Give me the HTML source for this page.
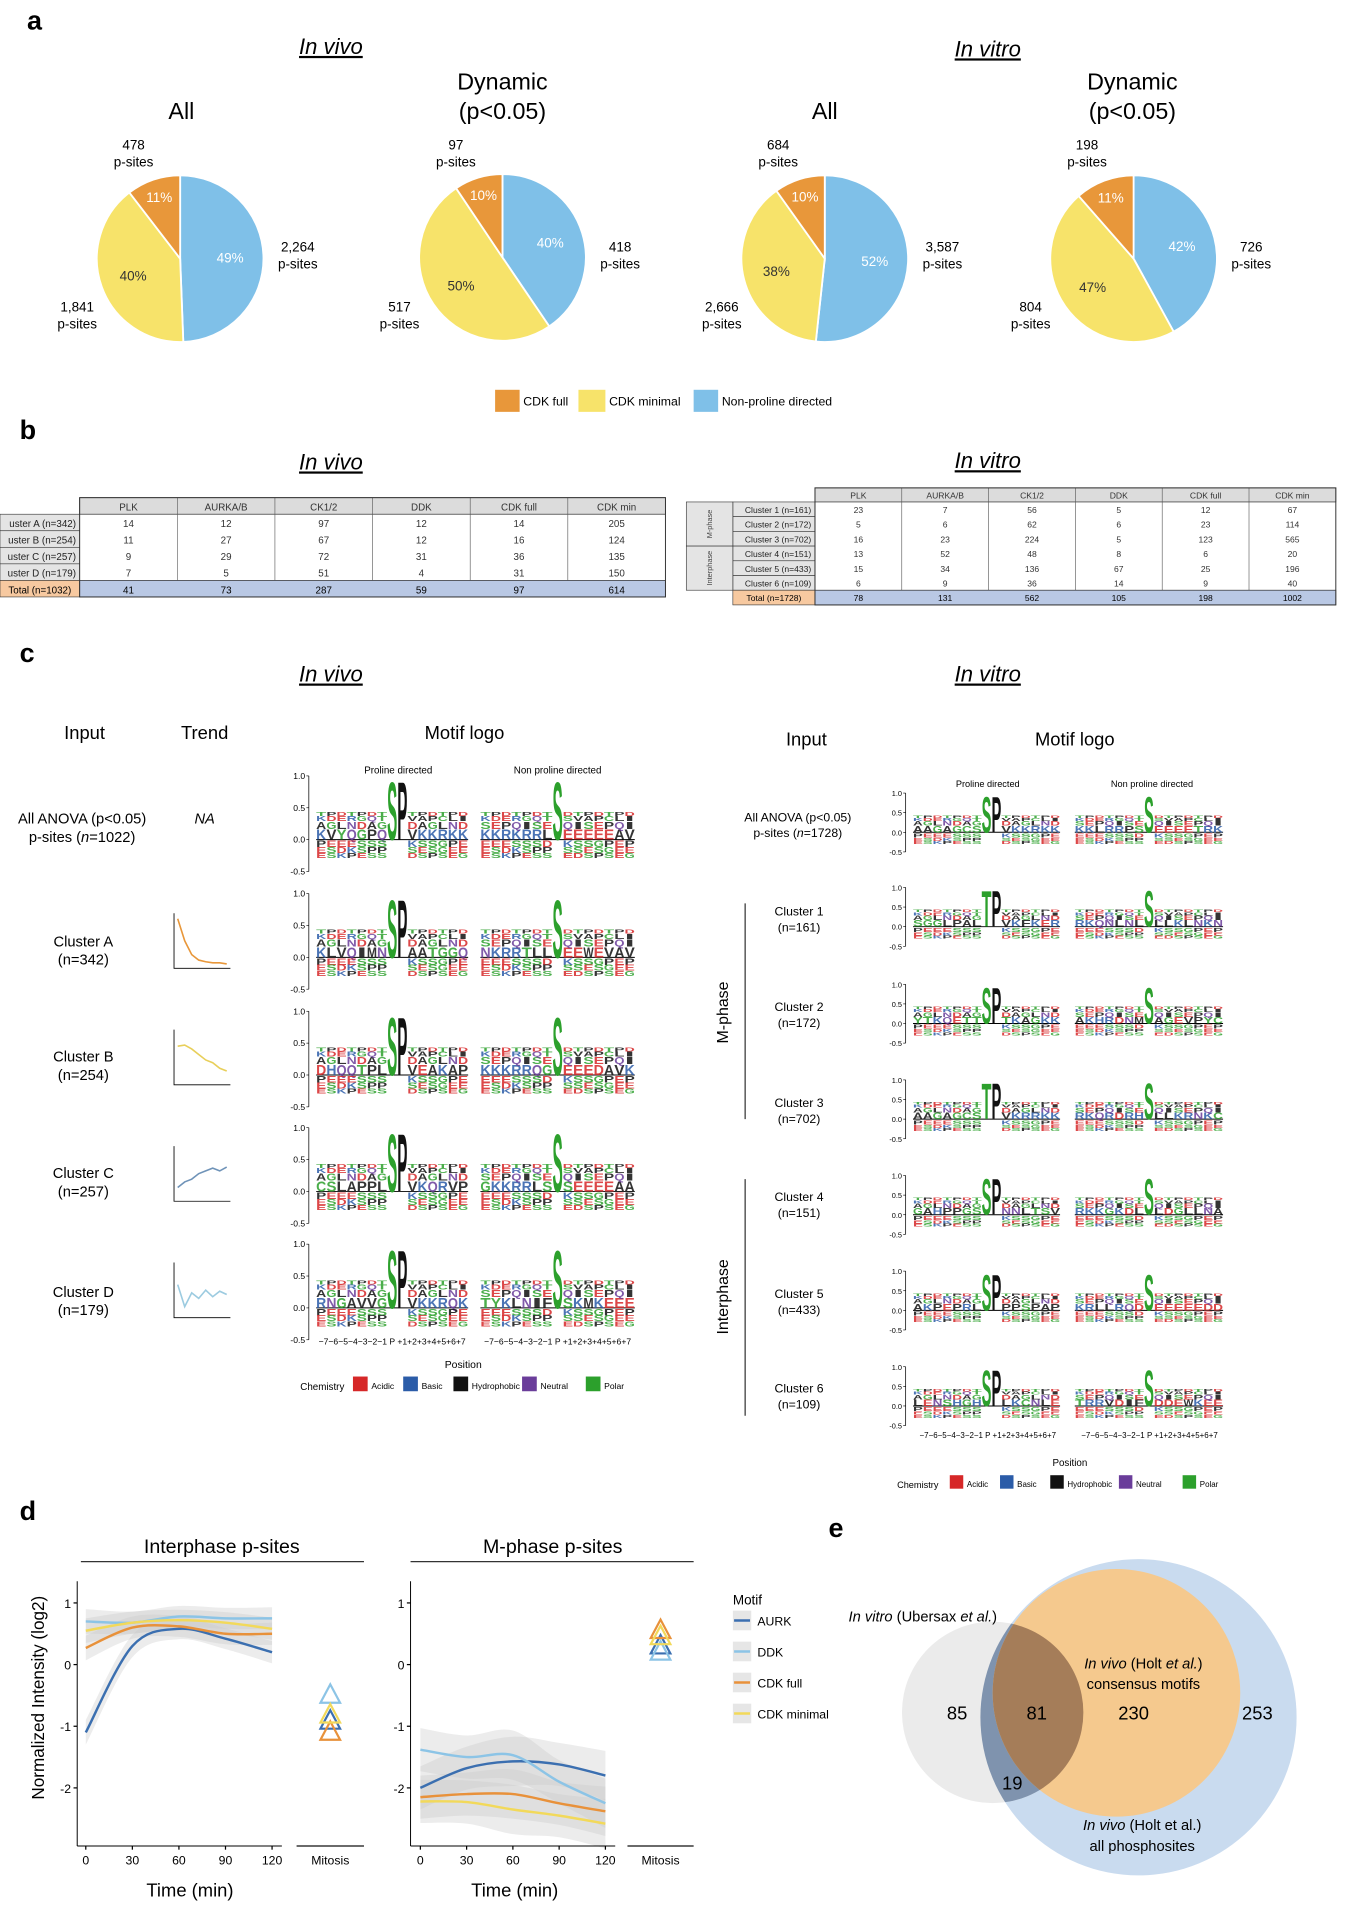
<!DOCTYPE html>
<html><head><meta charset="utf-8"><style>
html,body{margin:0;padding:0;background:#fff}
svg{display:block;font-family:"Liberation Sans",Arial,sans-serif}
</style></head><body>
<svg id="fig" width="1364" height="1922" viewBox="0 0 1113 1568" preserveAspectRatio="none" xmlns="http://www.w3.org/2000/svg">
<g id="pa">
<text x="22" y="24" font-size="22" font-weight="bold">a</text>
<text x="270" y="44" font-size="18" font-style="italic" text-anchor="middle" text-decoration="underline">In vivo</text>
<text x="806" y="46" font-size="18" font-style="italic" text-anchor="middle" text-decoration="underline">In vitro</text>
<text x="148" y="97" font-size="19" text-anchor="middle">All</text>
<text x="410" y="73" font-size="19" text-anchor="middle">Dynamic</text>
<text x="410" y="97" font-size="19" text-anchor="middle">(p&lt;0.05)</text>
<text x="673" y="97" font-size="19" text-anchor="middle">All</text>
<text x="924" y="73" font-size="19" text-anchor="middle">Dynamic</text>
<text x="924" y="97" font-size="19" text-anchor="middle">(p&lt;0.05)</text>
<g id="pies"></g>
<rect x="404" y="318" width="20" height="18" fill="#e8973a"/>
<text x="427" y="331" font-size="10">CDK full</text>
<rect x="472" y="318" width="22" height="18" fill="#f7e36a"/>
<text x="497" y="331" font-size="10">CDK minimal</text>
<rect x="566" y="318" width="20" height="18" fill="#7fc0e8"/>
<text x="589" y="331" font-size="10">Non-proline directed</text>
</g>
<g id="pb">
<text x="16" y="358" font-size="22" font-weight="bold">b</text>
<text x="270" y="383" font-size="18" font-style="italic" text-anchor="middle" text-decoration="underline">In vivo</text>
<text x="806" y="382" font-size="18" font-style="italic" text-anchor="middle" text-decoration="underline">In vitro</text>
<g id="tables"></g>
</g>
<g id="pc">
<text x="16" y="540" font-size="22" font-weight="bold">c</text>
<text x="270" y="556" font-size="18" font-style="italic" text-anchor="middle" text-decoration="underline">In vivo</text>
<text x="806" y="556" font-size="18" font-style="italic" text-anchor="middle" text-decoration="underline">In vitro</text>
<text x="69" y="603" font-size="15" text-anchor="middle">Input</text>
<text x="167" y="603" font-size="15" text-anchor="middle">Trend</text>
<text x="379" y="603" font-size="15" text-anchor="middle">Motif logo</text>
<text x="658" y="608" font-size="15" text-anchor="middle">Input</text>
<text x="877" y="608" font-size="15" text-anchor="middle">Motif logo</text>
<text x="325" y="631" font-size="8" text-anchor="middle">Proline directed</text>
<text x="455" y="631" font-size="8" text-anchor="middle">Non proline directed</text>
<text x="806" y="642" font-size="7.5" text-anchor="middle">Proline directed</text>
<text x="940" y="642" font-size="7.5" text-anchor="middle">Non proline directed</text>
<text x="67" y="672" font-size="12" text-anchor="middle">All ANOVA (p&lt;0.05)</text>
<text x="67" y="687" font-size="12" text-anchor="middle">p-sites (<tspan font-style="italic">n</tspan>=1022)</text>
<text x="167" y="672" font-size="12" font-style="italic" text-anchor="middle">NA</text>
<text x="651" y="670" font-size="10" text-anchor="middle">All ANOVA (p&lt;0.05)</text>
<text x="651" y="683" font-size="10" text-anchor="middle">p-sites (<tspan font-style="italic">n</tspan>=1728)</text>
<line x1="608" y1="737" x2="608" y2="913" stroke="#000" stroke-width="0.8"/>
<line x1="608" y1="962" x2="608" y2="1155" stroke="#000" stroke-width="0.8"/>
<text transform="translate(594,826) rotate(-90)" font-size="13" text-anchor="middle">M-phase</text>
<text transform="translate(594,1058) rotate(-90)" font-size="13" text-anchor="middle">Interphase</text>
<g id="logos"></g>
<g id="trends"></g>
<text x="378" y="1116" font-size="8.5" text-anchor="middle">Position</text>
<text x="873" y="1196" font-size="8" text-anchor="middle">Position</text>
<g id="chemleg"></g>
</g>
<g id="pd">
<text x="16" y="1240" font-size="22" font-weight="bold">d</text>
<text x="181" y="1267" font-size="16" text-anchor="middle">Interphase p-sites</text>
<line x1="66" y1="1274" x2="297" y2="1274" stroke="#333" stroke-width="1"/>
<text x="451" y="1267" font-size="16" text-anchor="middle">M-phase p-sites</text>
<line x1="335" y1="1274" x2="566" y2="1274" stroke="#333" stroke-width="1"/>
<text transform="translate(36,1385) rotate(-90)" font-size="14" text-anchor="middle">Normalized Intensity (log2)</text>
<text x="155" y="1547" font-size="15" text-anchor="middle">Time (min)</text>
<text x="420" y="1547" font-size="15" text-anchor="middle">Time (min)</text>
<g id="lines"></g>
<text x="598" y="1309" font-size="11">Motif</text>
<g id="dleg"></g>
</g>
<g id="pe">
<text x="676" y="1254" font-size="22" font-weight="bold">e</text>
<g id="venn"></g>
</g>
</svg>
<script>
const NS="http://www.w3.org/2000/svg";
function el(tag,attrs,parent,txt){const e=document.createElementNS(NS,tag);for(const k in attrs)e.setAttribute(k,attrs[k]);if(txt!==undefined)e.textContent=txt;parent.appendChild(e);return e;}
const $=id=>document.getElementById(id);

/* ---------- panel a: pies ---------- */
const pieNames=["invivo-all","invivo-dynamic","invitro-all","invitro-dynamic"];
const pieCdkFull=[478,97,684,198];
const pieCdkMin=[1841,517,2666,804];
const pieNonPro=[2264,418,3587,726];
const piePctNonPro=["49%","40%","52%","42%"];
const piePctCdkMin=["40%","50%","38%","47%"];
const piePctCdkFull=["11%","10%","10%","11%"];
const pieCenters=[[147,211],[410,210],[673,211],[925,211]];
const pieLabelCdkFull=["478","97","684","198"];
const pieLabelCdkMin=["1,841","517","2,666","804"];
const pieLabelNonPro=["2,264","418","3,587","726"];
const pieColors=["#7fc0e8","#f7e36a","#e8973a"];
const R=68;
pieNames.forEach((nm,i)=>{
  const g=el('g',{},$('pies'));
  
  
  const vals=[pieNonPro[i],pieCdkMin[i],pieCdkFull[i]];
  const pcts=[piePctNonPro[i],piePctCdkMin[i],piePctCdkFull[i]];
  const segNames=['non-proline','cdk-minimal','cdk-full'];
  const tot=vals.reduce((a,b)=>a+b,0);
  const [cx,cy]=pieCenters[i];
  let a0=-Math.PI/2;
  vals.forEach((v,j)=>{
    const a1=a0+v/tot*2*Math.PI;
    const large=(a1-a0)>Math.PI?1:0;
    const p=el('path',{d:`M${cx},${cy}L${cx+R*Math.cos(a0)},${cy+R*Math.sin(a0)}A${R},${R} 0 ${large} 1 ${cx+R*Math.cos(a1)},${cy+R*Math.sin(a1)}Z`,fill:pieColors[j],stroke:'#fff','stroke-width':1.5},g);
    
    
    const am=(a0+a1)/2, rr=j==2?0.78:0.6;
    const t=el('text',{x:cx+R*rr*Math.cos(am),y:cy+R*rr*Math.sin(am)+4,'font-size':11,fill:j==1?'#333':'#fff','text-anchor':'middle'},g,pcts[j]);
    
    
    a0=a1;
  });
  const lab=(x,y,s,n)=>{const t=el('text',{x:x,y:y,'font-size':11,'text-anchor':'middle'},g);
    el('tspan',{x:x,dy:0},t,s);el('tspan',{x:x,dy:14},t,'p-sites');};
  lab(cx-38,122,pieLabelCdkFull[i],'count-cdk-full');
  lab(cx+96,205,pieLabelNonPro[i],'count-non-proline');
  lab(cx-84,254,pieLabelCdkMin[i],'count-cdk-minimal');
});

/* ---------- panel b: tables ---------- */
const colHeads=["PLK","AURKA/B","CK1/2","DDK","CDK full","CDK min"];
const vivoRows=["uster A (n=342)","uster B (n=254)","uster C (n=257)","uster D (n=179)"];
const vivoVals=[[14,12,97,12,14,205],[11,27,67,12,16,124],[9,29,72,31,36,135],[7,5,51,4,31,150]];
const vivoTotal=[41,73,287,59,97,614];
const vitroRows=["Cluster 1 (n=161)","Cluster 2 (n=172)","Cluster 3 (n=702)","Cluster 4 (n=151)","Cluster 5 (n=433)","Cluster 6 (n=109)"];
const vitroVals=[[23,7,56,5,12,67],[5,6,62,6,23,114],[16,23,224,5,123,565],[13,52,48,8,6,20],[15,34,136,67,25,196],[6,9,36,14,9,40]];
const vitroTotal=[78,131,562,105,198,1002];
function table(name,x0,labW,x1,y0,hh,rh,rows,vals,tot,totLabel,fs,phaseX){
  const g=el('g',{},$('tables'));
  
  
  const cw=(x1-x0-labW)/6, cx0=x0+labW;
  el('rect',{x:cx0,y:y0,width:x1-cx0,height:hh,fill:'#dcdcdc',stroke:'#333','stroke-width':0.6},g);
  colHeads.forEach((h,j)=>{el('text',{x:cx0+cw*(j+.5),y:y0+hh-3,'font-size':fs,'text-anchor':'middle',fill:'#333'},g,h);
    el('line',{x1:cx0+cw*j,y1:y0,x2:cx0+cw*j,y2:y0+hh+rh*(rows.length+1),stroke:'#555','stroke-width':0.5},g);});
  const yb=y0+hh;
  rows.forEach((r,i)=>{const y=yb+rh*i;
    el('rect',{x:x0+(phaseX?38:0),y:y,width:labW-(phaseX?38:0),height:rh,fill:'#e4e4e4',stroke:'#333','stroke-width':0.5},g);
    el('text',{x:x0+labW-3,y:y+rh-3,'font-size':fs,'text-anchor':'end',fill:'#222'},g,r);
    vals[i].forEach((v,j)=>{const t=el('text',{x:cx0+cw*(j+.5),y:y+rh-3,'font-size':fs,'text-anchor':'middle',fill:'#333'},g,v);});
  });
  const yt=yb+rh*rows.length;
  el('rect',{x:x0+(phaseX?38:0),y:yt,width:labW-(phaseX?38:0),height:rh,fill:'#f7c9a0',stroke:'#333','stroke-width':0.5},g);
  el('text',{x:x0+(phaseX?38:0)+(labW-(phaseX?38:0))/2,y:yt+rh-3,'font-size':fs,'text-anchor':'middle'},g,totLabel);
  el('rect',{x:cx0,y:yt,width:x1-cx0,height:rh,fill:'#b9c8e4',stroke:'#333','stroke-width':0.6},g);
  tot.forEach((v,j)=>el('text',{x:cx0+cw*(j+.5),y:yt+rh-3,'font-size':fs,'text-anchor':'middle'},g,v));
  el('rect',{x:cx0,y:y0,width:x1-cx0,height:hh+rh*(rows.length+1),fill:'none',stroke:'#333','stroke-width':0.8},g);
  if(phaseX){
    el('rect',{x:x0,y:yb,width:38,height:rh*3,fill:'#e4e4e4',stroke:'#333','stroke-width':0.5},g);
    el('rect',{x:x0,y:yb+rh*3,width:38,height:rh*3,fill:'#e4e4e4',stroke:'#333','stroke-width':0.5},g);
    el('text',{transform:`translate(${x0+21},${yb+rh*1.5}) rotate(-90)`,'font-size':6,'text-anchor':'middle',fill:'#444'},g,'M-phase');
    el('text',{transform:`translate(${x0+21},${yb+rh*4.5}) rotate(-90)`,'font-size':6,'text-anchor':'middle',fill:'#444'},g,'Interphase');
  }
}
table('table-in-vivo',0,65,543,406,13.5,13.5,vivoRows,vivoVals,vivoTotal,'Total (n=1032)',8,false);
table('table-in-vitro',560,105,1090,398,11.5,12,vitroRows,vitroVals,vitroTotal,'Total (n=1728)',7,true);

/* ---------- panel c: motif logos ---------- */
const chemColor=c=>"DE".includes(c)?"#d62728":"KRH".includes(c)?"#2b5ca8":"QN".includes(c)?"#6a3d9a":"STYCG".includes(c)?"#2ca02c":"#111";
const vivoLogoTop=[["KVYQGPQSPVKKRKK","KKRKRRLSEEEEEAV"],["KLVQIMNSPAATGGQ","NKRRTLLSEEWEVAV"],["DHQQTPLSPVEAKAP","KKKRRQGSEEEDAV"],["CSLAPPLSPVKQRVP","GKKRRLSSSEEEEAA"],["RNGAVVGSPVKKRQK","TYKLNIFSSKMKEEE"]];
const vitroLogoTop=[["AAGAGCSSPVKKRKK","KKLRRPSSEEEETR"],["SGGLPALTPVKFKER","RKQNLNLSLLKLNKN"],["YTKQETTSPTKAGKK","AKHRDNMSAGEVPYC"],["AAGAGCSTPVKRRKK","RKQRDRHSLLKRNKC"],["GAHPPGSSPNNLTSV","RKKGKDLSLDGLLNA"],["AKPEPRLSPPPSPAP","KRLLRQDSEEEEEDD"],["LENSHGHSPLKCNLE","TRRVDIFSDDEWKEE"]];
const vivoY1=[633,729,825,920,1015];
const vitroY1=[647,724,803,881,959,1037,1115];
const stackFill="ASTGEKLPVNQRDIC";
const negFill="PEEESSSDEKSSGPE";
function logo(name,top,y1,unit,halves){
  const g=el('g',{},$('logos'));
  
  
  const y0=y1+unit;
  const ax=halves[0][0]-6;
  el('line',{x1:ax,y1:y1,x2:ax,y2:y0+unit*0.5,stroke:'#000','stroke-width':0.6},g);
  [[1,'1.0'],[0.5,'0.5'],[0,'0.0'],[-0.5,'-0.5']].forEach(([v,s])=>{el('text',{x:ax-3,y:y0-v*unit+2.5,'font-size':unit>40?7:6,'text-anchor':'end'},g,s);el('line',{x1:ax-2,y1:y0-v*unit,x2:ax,y2:y0-v*unit,stroke:'#000','stroke-width':0.5},g);});
  halves.forEach(([hx0,hx1],hi)=>{
    const str=top[hi]; const n=15; const w=(hx1-hx0)/n;
    el('line',{x1:hx0,y1:y0,x2:hx1,y2:y0,stroke:'#000','stroke-width':0.8},g);
    for(let i=0;i<n;i++){
      const c=str[i%str.length]; const x=hx0+w*i;
      const big=(i==7)||(hi==0&&i==8&&str[8]==='P');
      let stack=big?[[c,0.95]]:[[c,0.17],[stackFill[(i*3+hi)%15],0.12],[stackFill[(i*7+5)%15],0.08],[stackFill[(i*5+2)%15],0.06]];
      let yy=y0;
      stack.forEach(([ch,hgt])=>{const h=hgt*unit;
        el('text',{x:0,y:0,'font-size':10,'font-weight':'bold',fill:chemColor(ch),'fill-opacity':big?1:0.85,textLength:w,lengthAdjust:'spacingAndGlyphs',transform:`translate(${x},${yy}) scale(1,${h/7.3})`},g,ch);
        yy-=h;});
      if(!big){let yn=y0+1;[[negFill[(i+hi)%15],0.1],[negFill[(i*2+3)%15],0.09],[negFill[(i*4+1)%15],0.08]].forEach(([ch,hgt])=>{const h=hgt*unit;yn+=h;
        el('text',{x:0,y:0,'font-size':10,'font-weight':'bold',fill:chemColor(ch),'fill-opacity':0.85,textLength:w,lengthAdjust:'spacingAndGlyphs',transform:`translate(${x},${yn}) scale(1,${h/7.3})`},g,ch);});}
    }
  });
}
vivoLogoTop.forEach((t,i)=>logo('motif-logo-vivo-'+i,t,vivoY1[i],52,[[258,382],[392,518]]));
vitroLogoTop.forEach((t,i)=>logo('motif-logo-vitro-'+i,t,vitroY1[i],32,[[745,865],[877,998]]));
const posLab="\u22127\u22126\u22125\u22124\u22123\u22122\u22121 P +1+2+3+4+5+6+7";
[[320,1097,7],[455,1097,7],[806,1173,6.5],[938,1173,6.5]].forEach(([x,y,fs])=>el('text',{x:x,y:y,'font-size':fs,'text-anchor':'middle'},$('logos'),posLab));
const clusterLabelsVivo=[["Cluster A","(n=342)",772],["Cluster B","(n=254)",866],["Cluster C","(n=257)",961],["Cluster D","(n=179)",1058]];
clusterLabelsVivo.forEach(([a,b,y])=>{const t=el('text',{x:68,y:y,'font-size':12,'text-anchor':'middle'},$('logos'));el('tspan',{x:68,dy:0},t,a);el('tspan',{x:68,dy:15},t,b);});
const clusterLabelsVitro=[["Cluster 1","(n=161)",747],["Cluster 2","(n=172)",825],["Cluster 3","(n=702)",903],["Cluster 4","(n=151)",980],["Cluster 5","(n=433)",1059],["Cluster 6","(n=109)",1136]];
clusterLabelsVitro.forEach(([a,b,y])=>{const t=el('text',{x:652,y:y,'font-size':10,'text-anchor':'middle'},$('logos'));el('tspan',{x:652,dy:0},t,a);el('tspan',{x:652,dy:13},t,b);});
/* trends */
const trendA=[0.9,0.5,0.25,0.15,0.12,0.1,0.1,0.08];
const trendB=[0.7,0.72,0.65,0.55,0.45,0.4,0.3,0.25];
const trendC=[0.25,0.35,0.4,0.5,0.55,0.6,0.55,0.62];
const trendD=[0.6,0.2,0.45,0.35,0.5,0.38,0.48,0.42];
const trendColors=["#e8973a","#e8cf5a","#6f93b8","#9ccbe0"];
const trendTop=[745,840,935,1030];
[trendA,trendB,trendC,trendD].forEach((tr,i)=>{
  const g=el('g',{},$('trends'));
  
  
  const y0=trendTop[i],x0=142,w=46,h=45;
  el('path',{d:`M${x0},${y0}V${y0+h}H${x0+w}`,fill:'none',stroke:'#000','stroke-width':0.7},g);
  const pts=tr.map((v,k)=>`${x0+3+k*(w-6)/(tr.length-1)},${y0+h-v*h}`).join(' ');
  const p=el('polyline',{points:pts,fill:'none',stroke:trendColors[i],'stroke-width':1.3},g);
  
  
});
/* chemistry legends */
const chemNames=["Acidic","Basic","Hydrophobic","Neutral","Polar"];
const chemCols=["#d62728","#2b5ca8","#111","#6a3d9a","#2ca02c"];
function chemLegend(x,y,fs,sq,gaps){
  const g=el('g',{},$('chemleg'));
  
  
  el('text',{x:x,y:y+4,'font-size':fs+1},g,'Chemistry');
  let cx=x+gaps[0];
  chemNames.forEach((n,i)=>{el('rect',{x:cx,y:y-sq/2-1,width:sq,height:sq,fill:chemCols[i]},g);el('text',{x:cx+sq+3,y:y+3,'font-size':fs},g,n);cx+=gaps[i+1];});
}
chemLegend(245,1130,7,12,[43,41,41,56,52,50]);
chemLegend(732,1210,6.5,11,[43,41,41,56,52,50]);

/* ---------- panel d: line charts ---------- */
const timePts=[0,30,60,90,120];
const interAURK=[-1.1,0.3,0.58,0.42,0.2];
const interDDK=[0.7,0.68,0.78,0.75,0.75];
const interCDKfull=[0.27,0.6,0.62,0.5,0.5];
const interCDKmin=[0.55,0.68,0.72,0.68,0.58];
const mAURK=[-2.0,-1.68,-1.57,-1.62,-1.8];
const mDDK=[-1.38,-1.5,-1.47,-1.9,-2.25];
const mCDKfull=[-2.15,-2.1,-2.1,-2.25,-2.38];
const mCDKmin=[-2.22,-2.23,-2.35,-2.45,-2.58];
const interMitosis=[-0.92,-0.5,-1.1,-0.82];
const mMitosis=[0.3,0.2,0.55,0.45];
const yTicks=[1,0,-1,-2];
const xTicks=[0,30,60,90,120];
const motifNames=["AURK","DDK","CDK full","CDK minimal"];
const motifCols=["#3b6fb0","#8cc4e6","#e8913a","#f2d95a"];
const yS=v=>1358-v*50.3;
function smooth(p){let d=`M${p[0][0]},${p[0][1]}`;for(let i=0;i<p.length-1;i++){const p0=p[i-1]||p[i],p1=p[i],p2=p[i+1],p3=p[i+2]||p2;
  d+=`C${p1[0]+(p2[0]-p0[0])/6},${p1[1]+(p2[1]-p0[1])/6} ${p2[0]-(p3[0]-p1[0])/6},${p2[1]-(p3[1]-p1[1])/6} ${p2[0]},${p2[1]}`;}return d;}
function plot(name,axX,x0,x120,mx0,mx1,series,bands,mit){
  const g=el('g',{},$('lines'));
  
  
  const xS=t=>x0+(x120-x0)*t/120;
  series.forEach((s,i)=>{const up=s.map((v,k)=>[xS(timePts[k]),yS(v+bands[k])]),dn=s.map((v,k)=>[xS(timePts[k]),yS(v-bands[k])]).reverse();
    el('path',{d:smooth(up)+'L'+smooth(dn).slice(1)+'Z',fill:'#c8c8c8','fill-opacity':0.35},g);});
  series.forEach((s,i)=>{const p=el('path',{d:smooth(s.map((v,k)=>[xS(timePts[k]),yS(v)])),fill:'none',stroke:motifCols[i],'stroke-width':2},g);
    
    });
  el('line',{x1:axX,y1:1290,x2:axX,y2:1506,stroke:'#000','stroke-width':0.8},g);
  el('line',{x1:axX,y1:1506,x2:x120+8,y2:1506,stroke:'#000','stroke-width':0.8},g);
  el('line',{x1:mx0,y1:1506,x2:mx1,y2:1506,stroke:'#555','stroke-width':1.5},g);
  el('text',{x:(mx0+mx1)/2,y:1521,'font-size':10,'text-anchor':'middle'},g,'Mitosis');
  yTicks.forEach(v=>{el('line',{x1:axX-3,y1:yS(v),x2:axX,y2:yS(v),stroke:'#000'},g);el('text',{x:axX-5,y:yS(v)+4,'font-size':10,'text-anchor':'end'},g,v);});
  xTicks.forEach(t=>{el('line',{x1:xS(t),y1:1506,x2:xS(t),y2:1509,stroke:'#000'},g);el('text',{x:xS(t),y:1521,'font-size':10,'text-anchor':'middle'},g,t);});
  const mc=(mx0+mx1)/2;
  mit.forEach((v,i)=>{const y=yS(v);const p=el('path',{d:`M${mc},${y-9}L${mc+8},${y+6}L${mc-8},${y+6}Z`,fill:'none',stroke:motifCols[i],'stroke-width':1.8},g);
    
    });
}
plot('chart-interphase',63,70,222,242,297,[interAURK,interDDK,interCDKfull,interCDKmin],[0.2,0.18,0.17,0.17,0.18],interMitosis);
plot('chart-mphase',335,343,494,512,566,[mAURK,mDDK,mCDKfull,mCDKmin],[0.35,0.35,0.4,0.35,0.4],mMitosis);
motifNames.forEach((n,i)=>{const y=1322+i*25.3;
  const g=el('g',{},$('dleg'));
  
  
  el('rect',{x:598,y:y-8,width:15,height:16,fill:'#e6e6e6'},g);
  el('line',{x1:599,y1:y,x2:612,y2:y,stroke:motifCols[i],'stroke-width':2},g);
  el('text',{x:618,y:y+4,'font-size':10},g,n);});

/* ---------- panel e: venn ---------- */
const vennCounts=["85","81","230","253","19"];
(function(){
  const g=$('venn');
  el('defs',{},g).innerHTML='<clipPath id="cg"><circle cx="810" cy="1397" r="74"/></clipPath><clipPath id="co"><circle cx="911" cy="1381" r="101"/></clipPath>';
  el('circle',{cx:929,cy:1401,r:129,fill:'#c9dbef'},g);
  el('circle',{cx:810,cy:1397,r:74,fill:'#ebebeb'},g);
  el('circle',{cx:929,cy:1401,r:129,fill:'#7f93ae','clip-path':'url(#cg)'},g);
  el('circle',{cx:911,cy:1381,r:101,fill:'#f5c98e'},g);
  el('circle',{cx:911,cy:1381,r:101,fill:'#a57d59','clip-path':'url(#cg)'},g);
  const pos=[[781,1403],[846,1403],[925,1403],[1026,1403],[826,1460]];
  vennCounts.forEach((c,i)=>{const t=el('text',{x:pos[i][0],y:pos[i][1],'font-size':15,'text-anchor':'middle'},g,c);});
  el('text',{x:753,y:1323,'font-size':12,'text-anchor':'middle'},g).innerHTML='<tspan font-style="italic">In vitro</tspan> (Ubersax <tspan font-style="italic">et al.</tspan>)';
  el('text',{x:933,y:1361,'font-size':12,'text-anchor':'middle'},g).innerHTML='<tspan font-style="italic">In vivo</tspan> (Holt <tspan font-style="italic">et al.</tspan>)';
  el('text',{x:933,y:1378,'font-size':12,'text-anchor':'middle'},g,'consensus motifs');
  el('text',{x:932,y:1493,'font-size':12,'text-anchor':'middle'},g).innerHTML='<tspan font-style="italic">In vivo</tspan> (Holt et al.)';
  el('text',{x:932,y:1510,'font-size':12,'text-anchor':'middle'},g,'all phosphosites');
})();
</script>
</body></html>
